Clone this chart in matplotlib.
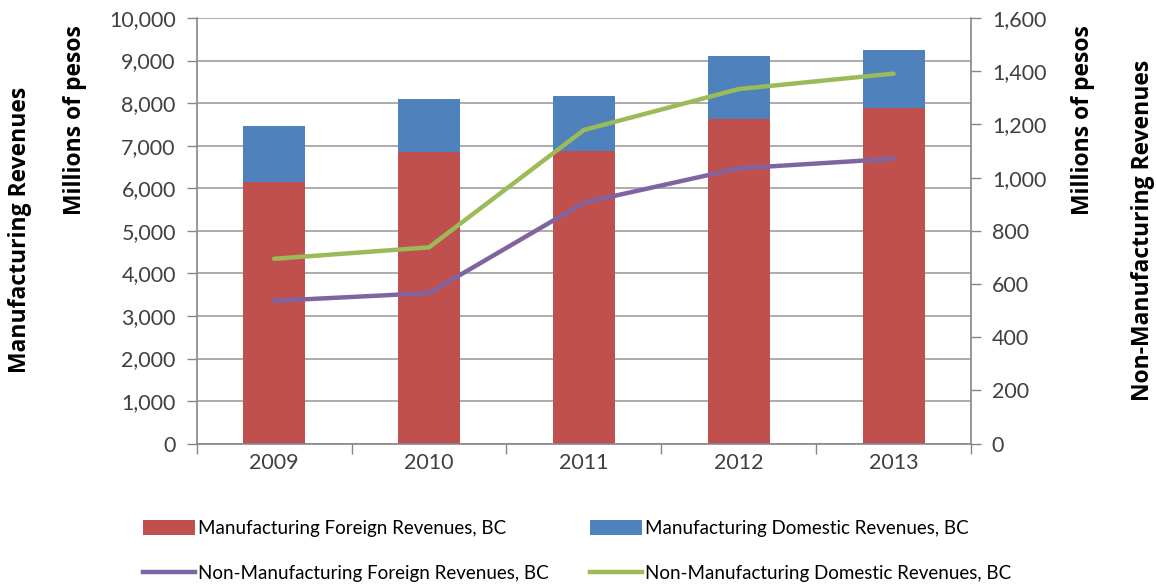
import matplotlib
matplotlib.use("Agg")
import matplotlib.pyplot as plt
from matplotlib.patches import Patch
from matplotlib.lines import Line2D
import numpy as np

years = ["2009", "2010", "2011", "2012", "2013"]
mfg_foreign = [6150, 6850, 6880, 7630, 7880]
mfg_domestic = [1310, 1240, 1290, 1480, 1380]
nonmfg_foreign = [537, 566, 906, 1035, 1071]
nonmfg_domestic = [695, 738, 1179, 1333, 1391]

left_ticks = list(range(0, 10001, 1000))
right_ticks = list(range(0, 1601, 200))

RED = "#C0504D"
BLUE = "#4F81BD"
PURPLE = "#8064A2"
GREEN = "#9BBB59"
AXC = "#868686"
GRID = "#A6A6A6"
TXT = "#404040"

plt.rcParams['font.family'] = ['Lato', 'DejaVu Sans']
TITLE_FONT = ['Open Sans', 'DejaVu Sans']

fig = plt.figure(figsize=(11.57, 5.88), dpi=100)
ax = fig.add_axes([196.7/1157, 1-443.7/588, (971-196.7)/1157, (443.7-18)/588])
x = np.arange(len(years))
w = 0.40
ax.bar(x, mfg_foreign, w, color=RED, zorder=2)
ax.bar(x, mfg_domestic, w, bottom=mfg_foreign, color=BLUE, zorder=2)
ax.set_xlim(-0.5, len(years)-0.5)
ax.set_ylim(0, 10000)
ax.set_yticks(left_ticks)
ax.set_yticklabels([f"{v:,}" for v in left_ticks])
ax.yaxis.grid(True, color=GRID, linewidth=1.3, zorder=0)
ax.set_axisbelow(True)
ax.set_xticks(x)
ax.set_xticklabels(years)
ax.set_xticks(np.arange(-0.5, len(years), 1.0), minor=True)
ax.tick_params(axis='x', which='major', length=0, pad=7, labelsize=15.5, labelcolor=TXT)
ax.tick_params(axis='x', which='minor', length=7, color=AXC, width=1)
ax.tick_params(axis='y', length=7, color=AXC, width=1, labelsize=15.5, labelcolor=TXT, pad=8)
for s in ['top', 'right']:
    ax.spines[s].set_visible(False)
for s in ['left', 'bottom']:
    ax.spines[s].set_color(AXC)
    ax.spines[s].set_linewidth(1.2)

ax2 = ax.twinx()
ax2.plot(x, nonmfg_foreign, color=PURPLE, linewidth=3.2, solid_capstyle='round', zorder=3)
ax2.plot(x, nonmfg_domestic, color=GREEN, linewidth=3.2, solid_capstyle='round', zorder=3)
ax2.set_ylim(0, 1600)
ax2.set_yticks(right_ticks)
ax2.set_yticklabels([f"{v:,}" for v in right_ticks])
ax2.tick_params(axis='y', length=7, color=AXC, width=1, labelsize=15.5, labelcolor=TXT, pad=8)
for s in ['top', 'left', 'bottom']:
    ax2.spines[s].set_visible(False)
ax2.spines['right'].set_color(AXC)
ax2.spines['right'].set_linewidth(1.2)

# Axis titles
tkw = dict(rotation=90, ha='center', va='center', fontsize=16.5, fontweight='bold',
           color='black', family=TITLE_FONT)
fig.text(75/1157, 1-120/588, "Millions of pesos", **tkw)
fig.text(20/1157, 1-230/588, "Manufacturing Revenues", **tkw)
fig.text(1083/1157, 1-120/588, "Millions of pesos", **tkw)
fig.text(1143/1157, 1-230/588, "Non-Manufacturing Revenues", **tkw)

h1 = [Patch(facecolor=RED), Line2D([0], [0], color=PURPLE, linewidth=3.2)]
l1 = ["Manufacturing Foreign Revenues, BC", "Non-Manufacturing Foreign Revenues, BC"]
h2 = [Patch(facecolor=BLUE), Line2D([0], [0], color=GREEN, linewidth=3.2)]
l2 = ["Manufacturing Domestic Revenues, BC", "Non-Manufacturing Domestic Revenues, BC"]
common = dict(frameon=False, fontsize=13.5, handlelength=2.75, handleheight=0.8,
              handletextpad=0.2, labelspacing=1.47, borderpad=0, borderaxespad=0,
              labelcolor='black')
leg1 = fig.legend(h1, l1, loc='upper left', bbox_to_anchor=(143/1157, 1-520/588), **common)
leg2 = fig.legend(h2, l2, loc='upper left', bbox_to_anchor=(590/1157, 1-520/588), **common)

fig.savefig("out.png", dpi=100)
